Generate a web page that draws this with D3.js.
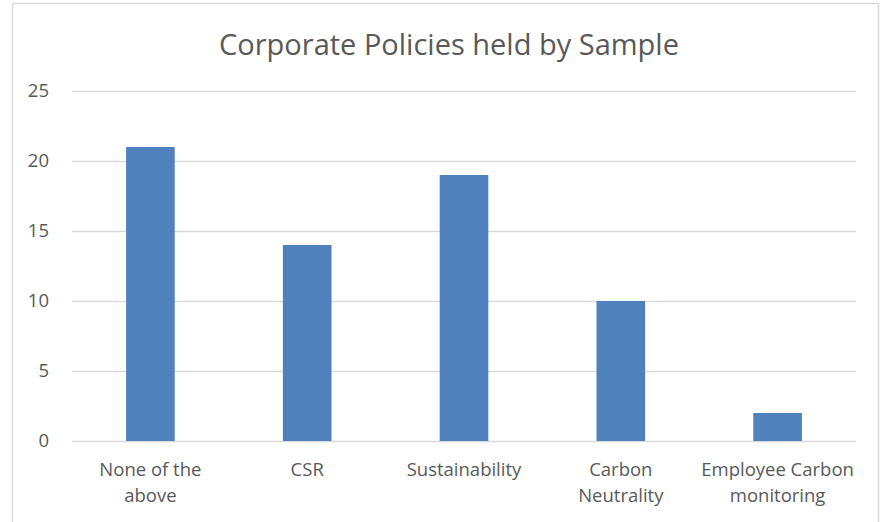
<!DOCTYPE html>
<html>
<head>
<meta charset="utf-8">
<script src="https://cdn.jsdelivr.net/npm/d3@7/dist/d3.min.js"></script>
<style>
  body { margin: 0; background: #fff; }
  text { font-family: "Open Sans", sans-serif; fill: #595959; }
</style>
</head>
<body>
<svg id="chart" width="884" height="522"></svg>
<script>
const categories = [["None of the", "above"], ["CSR"], ["Sustainability"], ["Carbon", "Neutrality"], ["Employee Carbon", "monitoring"]];
const values = [21, 14, 19, 10, 2];
const yTicks = [0, 5, 10, 15, 20, 25];
const title = "Corporate Policies held by Sample";

const svg = d3.select("#chart");
const width = 884, height = 522;
const margin = { top: 91, right: 28, bottom: 81, left: 72 };

// chart frame
svg.append("rect")
  .attr("x", 12.5).attr("y", 3.5)
  .attr("width", 866).attr("height", 530)
  .attr("fill", "#fff")
  .attr("stroke", "#d9d9d9")
  .attr("stroke-width", 1.5);

let x = d3.scaleBand()
  .domain(d3.range(values.length))
  .range([margin.left, width - margin.right])
  .paddingInner(0.69)
  .paddingOuter(0.345);

let y = d3.scaleLinear()
  .domain([0, 25])
  .range([height - margin.bottom, margin.top]);

// gridlines
svg.append("g")
  .selectAll("line")
  .data(yTicks)
  .enter()
  .append("line")
  .attr("x1", margin.left)
  .attr("x2", width - margin.right)
  .attr("y1", d => y(d) + 0.5)
  .attr("y2", d => y(d) + 0.5)
  .attr("stroke", "#d9d9d9")
  .attr("stroke-width", 1.3);

// y labels
svg.append("g")
  .selectAll("text")
  .data(yTicks)
  .enter()
  .append("text")
  .attr("x", 49)
  .attr("y", d => y(d))
  .attr("dy", "0.35em")
  .attr("text-anchor", "end")
  .style("font-size", "18.5px")
  .text(d => d);

// bars
svg.append("g")
  .selectAll("rect")
  .data(values)
  .enter()
  .append("rect")
  .attr("x", (d, i) => x(i))
  .attr("width", x.bandwidth())
  .attr("y", d => y(d))
  .attr("height", d => y(0) - y(d))
  .attr("fill", "#4f81bd");

// category labels
let labels = svg.append("g")
  .selectAll("text")
  .data(categories)
  .enter()
  .append("text")
  .attr("text-anchor", "middle")
  .style("font-size", "18.5px");

labels.selectAll("tspan")
  .data((d, i) => d.map(line => ({ line, i })))
  .enter()
  .append("tspan")
  .attr("x", d => x(d.i) + x.bandwidth() / 2)
  .attr("y", (d, j) => 476 + j * 26)
  .text(d => d.line);

// title
svg.append("text")
  .attr("x", 449)
  .attr("y", 55)
  .attr("text-anchor", "middle")
  .style("font-size", "29px")
  .text(title);
</script>
</body>
</html>
